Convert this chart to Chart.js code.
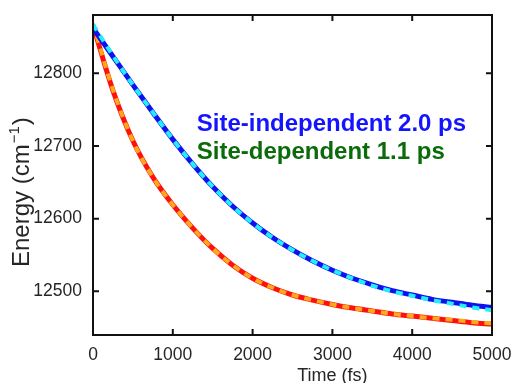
<!DOCTYPE html>
<html>
<head>
  <meta charset="UTF-8">
  <title>Energy relaxation</title>
  <script src="https://cdn.jsdelivr.net/npm/chart.js"></script>
  <style>
    body { margin: 0; background: white; }
    canvas { display: block; }
  </style>
</head>
<body>
  <canvas id="chart" width="515" height="383"></canvas>
  <script>
    // values, every 250 fs
    const times = [0, 250, 500, 750, 1000, 1250, 1500, 1750, 2000, 2250, 2500,
                   2750, 3000, 3250, 3500, 3750, 4000, 4250, 4500, 4750, 5000];
    const siteIndepFit = [12862, 12823, 12784, 12746, 12709, 12675, 12644, 12617, 12594, 12574, 12557,
                          12542, 12529, 12518, 12509, 12501, 12495, 12489, 12485, 12481, 12478];
    const siteIndepSim = [12867, 12824, 12784, 12746, 12709, 12675, 12644, 12617, 12594, 12574, 12557,
                          12542, 12529, 12518, 12508, 12500, 12494, 12488, 12483, 12478, 12474];
    const siteDepFit = [12866, 12776, 12707, 12657, 12619, 12587, 12559, 12536, 12518, 12505, 12495,
                        12488, 12482, 12477, 12473, 12469, 12466, 12463, 12460, 12457, 12455];
    const siteDepSim = [12868, 12777, 12707, 12657, 12619, 12587, 12559, 12536, 12518, 12505, 12495,
                        12488, 12482, 12477, 12473, 12469, 12466, 12463, 12461, 12458, 12456];

    const xTicks = [0, 1000, 2000, 3000, 4000, 5000];
    const yTicks = [12500, 12600, 12700, 12800];

    const font = '"Liberation Sans", Arial, sans-serif';
    const toPoints = ys => times.map((t, i) => ({x: t, y: ys[i]}));

    function line(data, color, width, dash) {
      return {
        data: toPoints(data),
        borderColor: color,
        borderWidth: width,
        borderDash: dash || [],
        pointRadius: 0,
        fill: false,
        cubicInterpolationMode: 'monotone'
      };
    }

    // frame, inward ticks, annotations and axis titles
    const decor = {
      id: 'decor',
      afterDraw(chart) {
        const {ctx, chartArea: a, scales: {x, y}} = chart;
        ctx.save();
        ctx.strokeStyle = '#111';
        ctx.lineWidth = 2;
        ctx.strokeRect(a.left, a.top, a.right - a.left, a.bottom - a.top);
        ctx.beginPath();
        xTicks.forEach(v => {
          const px = x.getPixelForValue(v);
          ctx.moveTo(px, a.bottom); ctx.lineTo(px, a.bottom - 6);
          ctx.moveTo(px, a.top); ctx.lineTo(px, a.top + 6);
        });
        yTicks.forEach(v => {
          const py = y.getPixelForValue(v);
          ctx.moveTo(a.left, py); ctx.lineTo(a.left + 6, py);
          ctx.moveTo(a.right, py); ctx.lineTo(a.right - 6, py);
        });
        ctx.stroke();

        ctx.font = 'bold 24px ' + font;
        ctx.textAlign = 'left';
        ctx.textBaseline = 'alphabetic';
        const tx = x.getPixelForValue(1300);
        ctx.fillStyle = '#1414ff';
        ctx.fillText('Site-independent 2.0 ps', tx, y.getPixelForValue(12720));
        ctx.fillStyle = '#0b6b0b';
        ctx.fillText('Site-dependent 1.1 ps', tx, y.getPixelForValue(12682));

        // x title
        ctx.fillStyle = '#262626';
        ctx.font = '18px ' + font;
        ctx.textAlign = 'center';
        ctx.fillText('Time (fs)', x.getPixelForValue(3000), 381);

        // y title with superscript
        ctx.translate(29, 267);
        ctx.rotate(-Math.PI / 2);
        ctx.textAlign = 'left';
        const big = '24px ' + font;
        const small = '15px ' + font;
        let cx = 0;
        ctx.font = big;
        ctx.fillText('Energy (cm', cx, 0);
        cx += ctx.measureText('Energy (cm').width + 1;
        ctx.font = small;
        ctx.fillText('\u22121', cx, -10);
        cx += ctx.measureText('\u22121').width + 1;
        ctx.font = big;
        ctx.fillText(')', cx, 0);
        ctx.restore();
      }
    };

    new Chart(document.getElementById('chart'), {
      type: 'line',
      data: {
        datasets: [
          line(siteIndepSim, '#22eeff', 4, [7, 6]),
          line(siteIndepFit, '#1010ee', 5),
          line(siteDepSim, '#ffa81a', 4, [7, 6]),
          line(siteDepFit, '#ff1010', 5)
        ]
      },
      options: {
        responsive: false,
        animation: false,
        layout: {padding: {left: 0, top: 15, right: 23, bottom: 0}},
        plugins: {legend: {display: false}, tooltip: {enabled: false}},
        scales: {
          x: {
            type: 'linear',
            min: 0, max: 5000,
            afterBuildTicks: s => { s.ticks = xTicks.map(v => ({value: v})); },
            afterFit: s => { s.height = 48; s.paddingLeft = 0; s.paddingRight = 0; },
            grid: {display: false},
            border: {display: false},
            ticks: {color: '#262626', padding: 2, maxRotation: 0,
                    callback: v => String(v),
                    font: {size: 17.5, family: font}}
          },
          y: {
            min: 12440, max: 12880,
            afterBuildTicks: s => { s.ticks = yTicks.map(v => ({value: v})); },
            afterFit: s => { s.width = 93; s.paddingTop = 0; s.paddingBottom = 0; },
            grid: {display: false},
            border: {display: false},
            ticks: {color: '#262626', padding: 3,
                    callback: v => String(v),
                    font: {size: 17.5, family: font}}
          }
        }
      },
      plugins: [decor]
    });
  </script>
</body>
</html>
